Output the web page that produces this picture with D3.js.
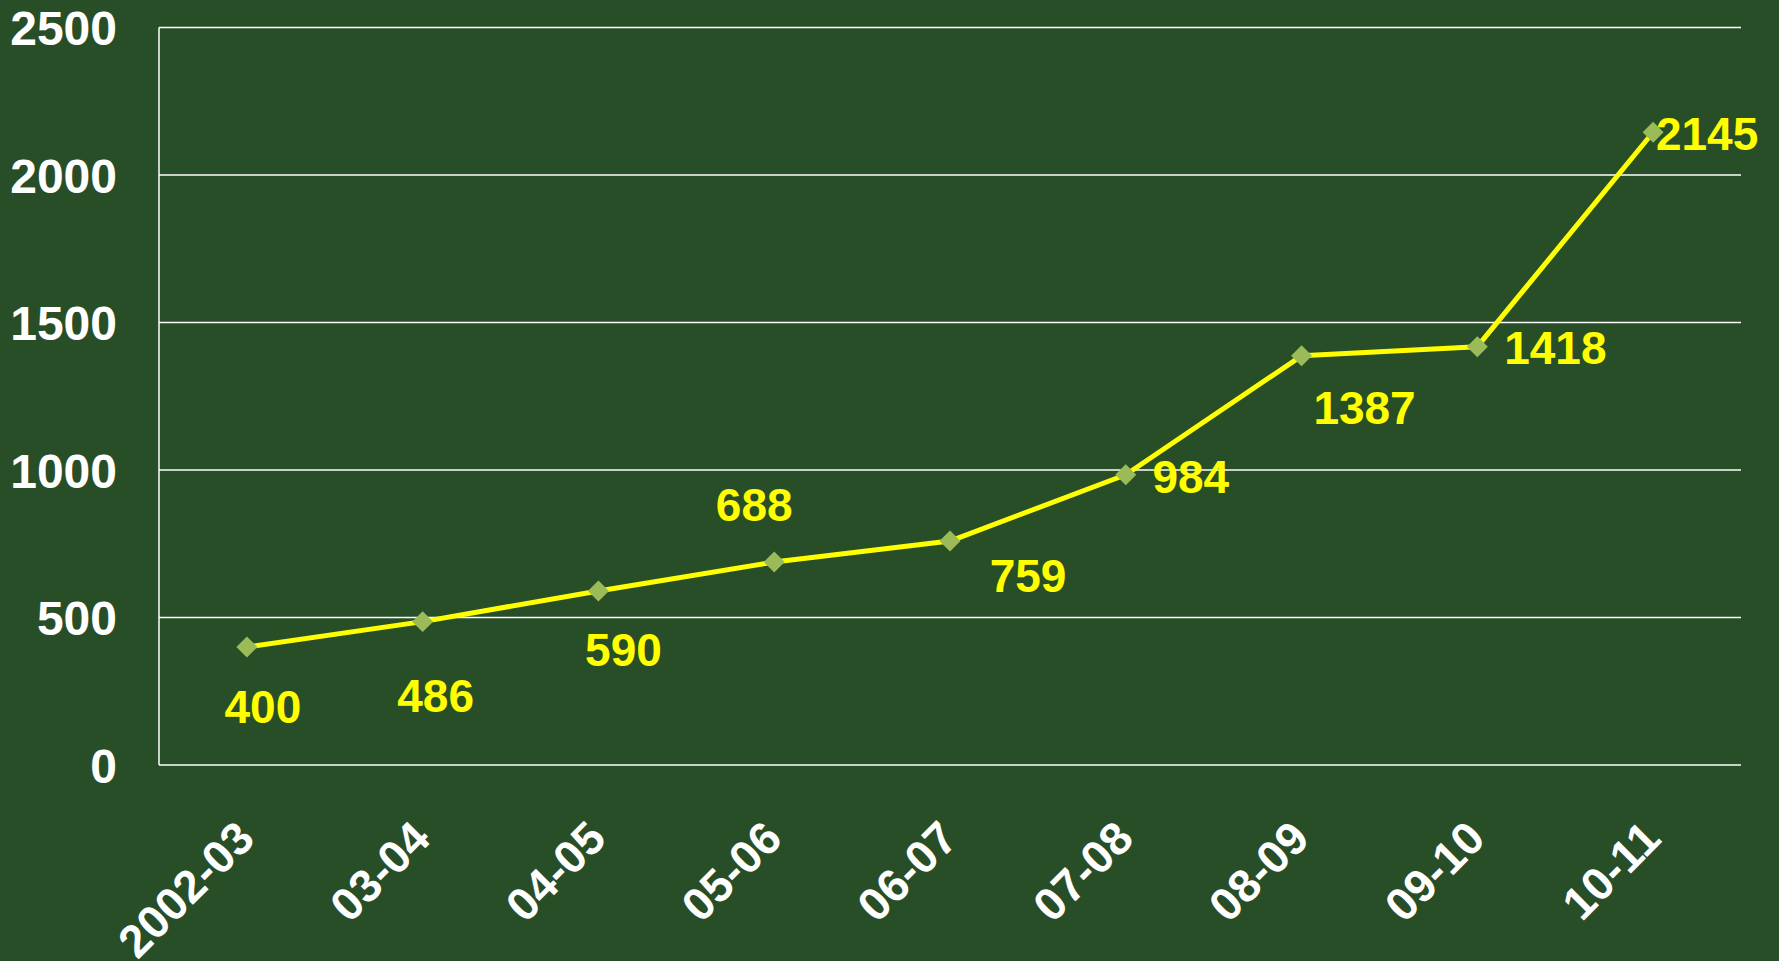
<!DOCTYPE html>
<html>
<head>
<meta charset="utf-8">
<script src="https://cdn.jsdelivr.net/npm/d3@7"></script>
<style>
  html, body { margin: 0; padding: 0; background: #284e28; }
  svg { display: block; }
  svg text { font-family: "Liberation Sans", Arimo, Arial, Helvetica, sans-serif; font-weight: bold; }
</style>
</head>
<body>
<div id="chart"></div>
<script>
var years = ["2002-03", "03-04", "04-05", "05-06", "06-07", "07-08", "08-09", "09-10", "10-11"];
var counts = [400, 486, 590, 688, 759, 984, 1387, 1418, 2145];
var yTicks = [0, 500, 1000, 1500, 2000, 2500];

// hand placed label nudges (dx, dy from the marker), like the original slide
var labelNudge = [[16, 76], [13, 90], [25, 75], [-20, -41], [78, 51], [65, 18], [63, 68], [78, 17], [54, 18]];

var width = 1779, height = 961;
var plotLeft = 159, plotRight = 1741, plotTop = 27.5, plotBottom = 765;

var svg = d3.select("#chart").append("svg")
    .attr("width", width)
    .attr("height", height);

svg.append("rect").attr("width", width).attr("height", height).attr("fill", "#284e28");

var x = d3.scalePoint().domain(years).range([plotLeft, plotRight]).padding(0.5);
var y = d3.scaleLinear().domain([0, 2500]).range([plotBottom, plotTop]);

// grid lines
svg.selectAll(".grid")
    .data(yTicks)
    .enter()
    .append("line")
    .attr("class", "grid")
    .attr("x1", plotLeft).attr("x2", plotRight)
    .attr("y1", function(d){ return y(d); })
    .attr("y2", function(d){ return y(d); })
    .attr("stroke", "#ffffff")
    .attr("stroke-width", 1.5);

svg.append("line")
    .attr("x1", plotLeft).attr("x2", plotLeft)
    .attr("y1", plotTop).attr("y2", plotBottom)
    .attr("stroke", "#ffffff")
    .attr("stroke-width", 1.5);

// y axis labels
var yAxis = d3.axisLeft(y).tickValues(yTicks).tickSize(0).tickPadding(0).tickFormat(d3.format("d"));
var gy = svg.append("g").attr("transform", "translate(117,0)").call(yAxis);
gy.attr("font-family", null);
gy.select(".domain").remove();
gy.selectAll("text")
    .attr("fill", "#ffffff")
    .attr("font-size", 48)
    .attr("dy", "0.36em");

// x axis labels, rotated
svg.selectAll(".xlab")
    .data(years)
    .enter()
    .append("text")
    .attr("class", "xlab")
    .attr("transform", function(d){ return "translate(" + (x(d) + 10) + ",841) rotate(-45)"; })
    .attr("text-anchor", "end")
    .attr("fill", "#ffffff")
    .attr("font-size", 46)
    .text(function(d){ return d; });

// line
var line = d3.line()
    .x(function(d, i){ return x(years[i]); })
    .y(function(d){ return y(d); });

svg.append("path")
    .datum(counts)
    .attr("d", line)
    .attr("fill", "none")
    .attr("stroke", "#ffff00")
    .attr("stroke-width", 5)
    .attr("stroke-linejoin", "round");

// diamond markers
var diamond = d3.symbol().type(d3.symbolSquare).size(220);
svg.selectAll(".mark")
    .data(counts)
    .enter()
    .append("path")
    .attr("class", "mark")
    .attr("d", diamond)
    .attr("transform", function(d, i){ return "translate(" + x(years[i]) + "," + y(d) + ") rotate(45)"; })
    .attr("fill", "#9bbb59");

// value labels
svg.selectAll(".val")
    .data(counts)
    .enter()
    .append("text")
    .attr("class", "val")
    .attr("x", function(d, i){ return x(years[i]) + labelNudge[i][0]; })
    .attr("y", function(d, i){ return y(d) + labelNudge[i][1]; })
    .attr("text-anchor", "middle")
    .attr("fill", "#ffff00")
    .attr("font-size", 46)
    .text(function(d){ return d; });
</script>
</body>
</html>
